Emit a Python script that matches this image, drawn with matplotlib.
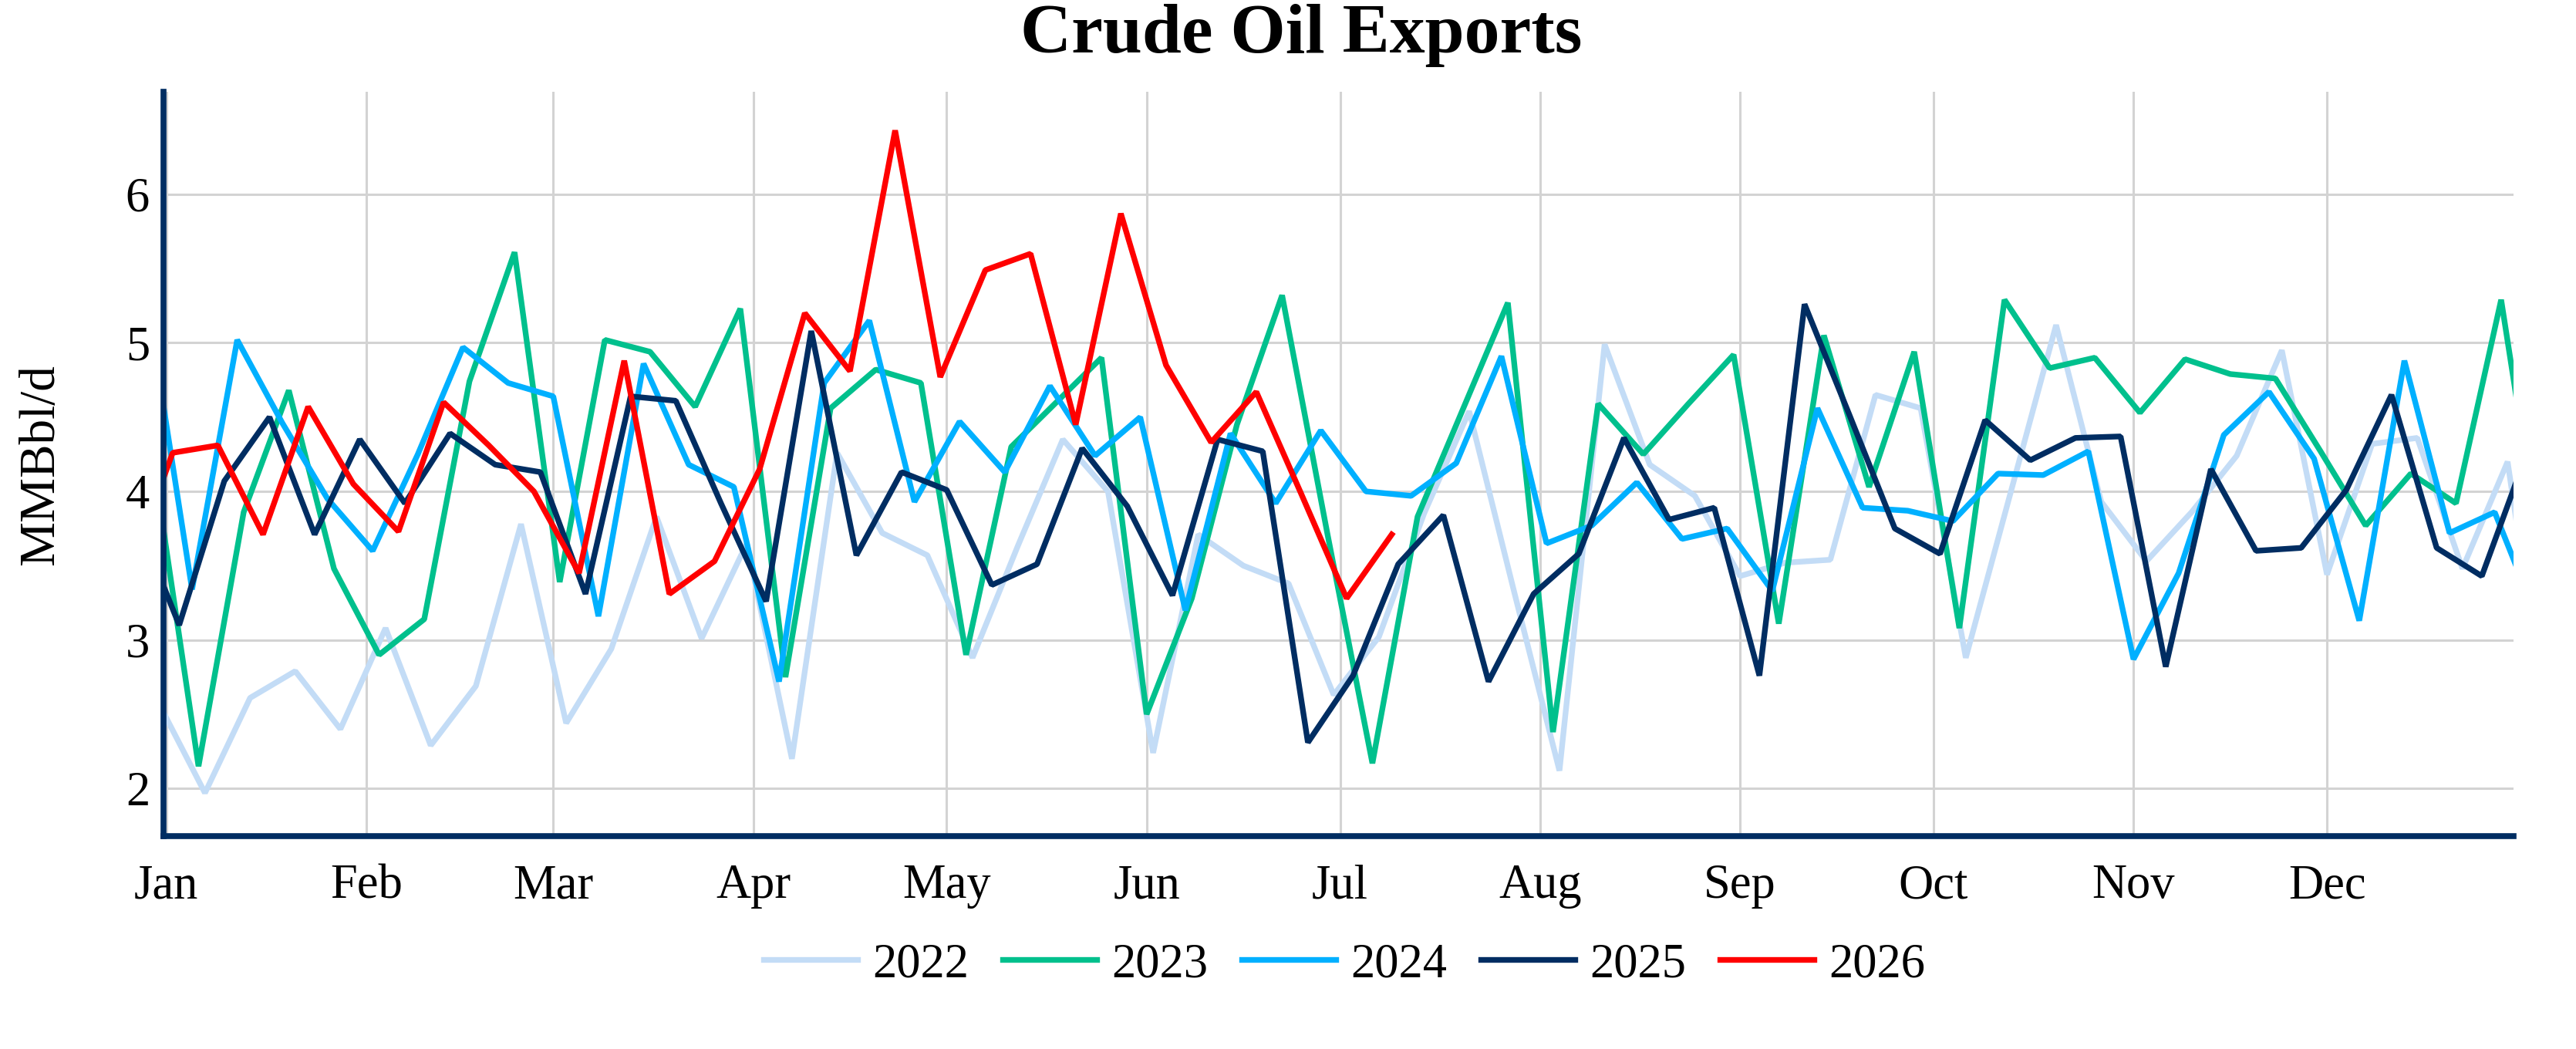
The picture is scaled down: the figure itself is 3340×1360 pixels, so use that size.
import pandas as pd
import matplotlib
matplotlib.use("Agg")
import matplotlib.pyplot as plt
import matplotlib.dates as mdates

# weekly crude oil exports (MMBbl/d), weeks ending on Friday
dec_31_2021 = 2.56

exports_2022 = [1.97, 2.61, 2.79, 2.40, 3.08, 2.29, 2.69, 3.78, 2.44, 2.94, 3.83, 3.01, 3.65,
                2.20, 4.26, 3.72, 3.57, 2.88, 3.63, 4.35, 4.00, 2.24, 3.71, 3.50, 3.38, 2.63,
                3.02, 3.85, 4.54, 3.32, 2.12, 4.99, 4.18, 3.97, 3.43, 3.52, 3.54, 4.65, 4.56,
                2.88, 4.00, 5.12, 3.93, 3.53, 3.86, 4.24, 4.95, 3.44, 4.32, 4.36, 3.48, 4.20]

exports_2023 = [2.15, 3.86, 4.68, 3.48, 2.90, 3.14, 4.74, 5.61, 3.39, 5.02, 4.94, 4.57, 5.23,
                2.75, 4.56, 4.82, 4.73, 2.90, 4.30, 4.60, 4.90, 2.50, 3.28, 4.45, 5.32, 3.72,
                2.17, 3.83, 4.55, 5.27, 2.38, 4.59, 4.25, 4.59, 4.92, 3.11, 5.05, 4.03, 4.94,
                3.08, 5.29, 4.83, 4.90, 4.53, 4.89, 4.79, 4.76, 4.27, 3.77, 4.12, 3.92, 5.29]

exports_2024 = [3.34, 5.02, 4.46, 3.95, 3.60, 4.25, 4.97, 4.73, 4.64, 3.16, 4.86, 4.18, 4.03,
                2.72, 4.73, 5.15, 3.93, 4.47, 4.13, 4.71, 4.24, 4.50, 3.20, 4.39, 3.92, 4.41,
                4.00, 3.97, 4.19, 4.91, 3.65, 3.77, 4.06, 3.68, 3.75, 3.33, 4.56, 3.89, 3.87,
                3.80, 4.12, 4.11, 4.27, 2.87, 3.45, 4.38, 4.67, 4.22, 3.13, 4.88, 3.72, 3.86]

exports_2025 = [3.10, 4.07, 4.50, 3.71, 4.35, 3.92, 4.39, 4.18, 4.13, 3.31, 4.64, 4.61, 3.92,
                3.26, 5.08, 3.57, 4.13, 4.01, 3.37, 3.51, 4.29, 3.90, 3.30, 4.35, 4.27, 2.31,
                2.76, 3.51, 3.84, 2.72, 3.31, 3.58, 4.36, 3.81, 3.89, 2.76, 5.26, 4.51, 3.75,
                3.58, 4.48, 4.21, 4.36, 4.37, 2.82, 4.15, 3.60, 3.62, 4.01, 4.65, 3.62, 3.43]

exports_2026 = [4.26, 4.31, 3.71, 4.57, 4.05, 3.73, 4.60, 4.31, 4.00, 3.45, 4.88, 3.31, 3.53,
                4.15, 5.20, 4.81, 6.43, 4.77, 5.49, 5.60, 4.45, 5.87, 4.85, 4.33, 4.67, 3.98,
                3.28, 3.71]

years = [2022, 2023, 2024, 2025, 2026]
colors = ["#C3DCF6", "#00C08D", "#00B0FF", "#002D62", "#FF0000"]

values = [dec_31_2021] + exports_2022 + exports_2023 + exports_2024 + exports_2025 + exports_2026
dates = pd.date_range("2021-12-31", periods=len(values), freq="7D")
weekly = pd.Series(values, index=dates)

plt.rcParams["font.family"] = ["Liberation Serif", "DejaVu Serif"]

fig = plt.figure(figsize=(33.4, 13.6), dpi=100)
ax = fig.add_axes([0.0635, 0.203, 0.9122, 0.7095])

# every year drawn on a common (leap) calendar, with one week either side
base = pd.Timestamp("2024-01-01")
for yr, col in zip(years, colors):
    start = pd.Timestamp(yr, 1, 1)
    s = weekly[(weekly.index >= start - pd.Timedelta(days=7)) &
               (weekly.index <= pd.Timestamp(yr, 12, 31) + pd.Timedelta(days=7))]
    x = base + (s.index - start)
    ax.plot(x, s.values, color=col, lw=5.3, label=str(yr), solid_joinstyle="bevel")

ax.set_xlim(base - pd.Timedelta(hours=10), base + pd.Timedelta(days=363.9))
ax.set_ylim(1.68, 6.69)
ax.set_yticks([2, 3, 4, 5, 6])
ax.xaxis.set_major_locator(mdates.MonthLocator())
ax.xaxis.set_major_formatter(mdates.DateFormatter("%b"))

ax.grid(color="#D3D3D3", lw=2.2)
ax.set_axisbelow(True)
for side in ["top", "right"]:
    ax.spines[side].set_visible(False)
for side in ["left", "bottom"]:
    ax.spines[side].set_color("#002D62")
    ax.spines[side].set_linewidth(5.5)
ax.tick_params(axis="x", length=0, pad=26, labelsize=45)
ax.tick_params(axis="y", length=0, pad=13, labelsize=45)

fig.text(0.505, 0.966, "Crude Oil Exports", ha="center", va="center",
         fontsize=66, fontweight="bold")
fig.text(0.016, 0.557, "MMBbl/d", rotation=90, ha="center", va="center", fontsize=47)

fig.legend(loc="center", bbox_to_anchor=(0.522, 0.08), ncol=5, frameon=False,
           fontsize=45, handlelength=1.94, handletextpad=0.32, columnspacing=0.7)

fig.savefig("out.png", dpi=100)
